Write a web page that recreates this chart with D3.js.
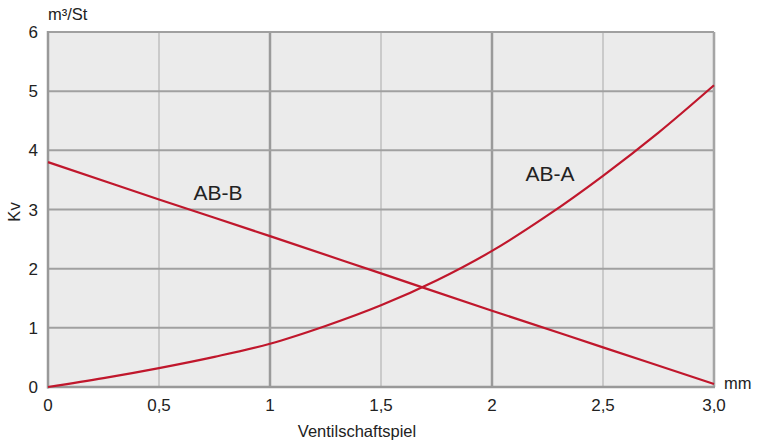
<!DOCTYPE html>
<html><head><meta charset="utf-8">
<script src="https://cdn.jsdelivr.net/npm/d3@7"></script>
<style>body{margin:0;background:#fff}svg{display:block;font-family:"Liberation Sans",Arial,sans-serif}</style>
</head><body><svg id="c" width="760" height="441"></svg>
<script>
const xTicks = [0, 0.5, 1, 1.5, 2, 2.5, 3];
const xTickLabels = ["0", "0,5", "1", "1,5", "2", "2,5", "3,0"];
const yTicks = [0, 1, 2, 3, 4, 5, 6];
const abAx = [0, 0.25, 0.5, 0.75, 1.0, 1.25, 1.5, 1.75, 2.0, 2.25, 2.5, 2.75, 3.0];
const abAy = [0, 0.15, 0.32, 0.51, 0.73, 1.03, 1.38, 1.8, 2.3, 2.9, 3.57, 4.3, 5.1];
const abBx = [0, 0.5, 1.0, 1.5, 2.0, 2.5, 3.0];
const abBy = [3.8, 3.17, 2.55, 1.92, 1.29, 0.67, 0.05];

const svg = d3.select("#c");
const L = 48, R = 714, T = 32, B = 387;
const x = d3.scaleLinear().domain([0, 3]).range([L, R]);
const y = d3.scaleLinear().domain([0, 6]).range([B, T]);

svg.append("rect").attr("x", L).attr("y", T).attr("width", R - L).attr("height", B - T).attr("fill", "#ebebeb");

xTicks.forEach(v => {
  if (v === 0) return;
  const major = Number.isInteger(v);
  svg.append("line").attr("x1", x(v)).attr("x2", x(v)).attr("y1", T).attr("y2", B)
    .attr("stroke", major ? "#9a9a9a" : "#b4b4b4").attr("stroke-width", major ? 2.5 : 1.2);
});
yTicks.forEach(v => {
  if (v === 0) return;
  svg.append("line").attr("x1", L).attr("x2", R).attr("y1", y(v)).attr("y2", y(v))
    .attr("stroke", "#a0a0a0").attr("stroke-width", 2);
});
svg.append("line").attr("x1", R).attr("x2", R).attr("y1", T).attr("y2", B).attr("stroke", "#a8a8a8").attr("stroke-width", 1.5);
svg.append("line").attr("x1", L).attr("x2", L).attr("y1", T - 1).attr("y2", B + 1.5).attr("stroke", "#999").attr("stroke-width", 2.5);
svg.append("line").attr("x1", L - 1).attr("x2", R + 1).attr("y1", B).attr("y2", B).attr("stroke", "#999").attr("stroke-width", 2.5);

const line = d3.line().x(d => x(d[0])).y(d => y(d[1])).curve(d3.curveCatmullRom);
svg.append("path").datum(abAx.map((v, i) => [v, abAy[i]])).attr("d", line)
  .attr("fill", "none").attr("stroke", "#c0172c").attr("stroke-width", 2.2);
svg.append("path").datum(abBx.map((v, i) => [v, abBy[i]])).attr("d", line)
  .attr("fill", "none").attr("stroke", "#c0172c").attr("stroke-width", 2.2);

xTicks.forEach((v, i) => {
  svg.append("text").attr("x", x(v)).attr("y", 411).attr("text-anchor", "middle")
    .attr("font-size", 17).attr("fill", "#222").text(xTickLabels[i]);
});
yTicks.forEach(v => {
  svg.append("text").attr("x", 38).attr("y", y(v) + 6).attr("text-anchor", "end")
    .attr("font-size", 17).attr("fill", "#222").text(v);
});

svg.append("text").attr("x", 48).attr("y", 20).attr("font-size", 16.5).attr("fill", "#222").text("m³/St");
svg.append("text").attr("x", 724).attr("y", 389).attr("font-size", 16.5).attr("fill", "#222").text("mm");
svg.append("text").attr("transform", "translate(20,212) rotate(-90)").attr("text-anchor", "middle")
  .attr("font-size", 16.5).attr("fill", "#222").text("Kv");
svg.append("text").attr("x", 357).attr("y", 437).attr("text-anchor", "middle")
  .attr("font-size", 16.5).attr("fill", "#222").text("Ventilschaftspiel");

svg.append("text").attr("x", 218).attr("y", 200).attr("text-anchor", "middle")
  .attr("font-size", 21).attr("fill", "#222").text("AB-B");
svg.append("text").attr("x", 550).attr("y", 181).attr("text-anchor", "middle")
  .attr("font-size", 21).attr("fill", "#222").text("AB-A");
</script></body></html>
